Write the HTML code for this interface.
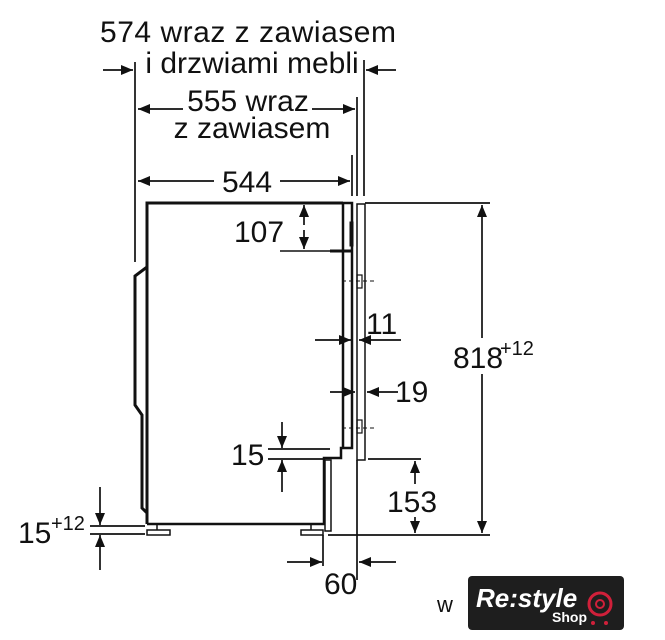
<!DOCTYPE html>
<html><head><meta charset="utf-8"><style>
html,body{margin:0;padding:0;background:#fff}
svg{display:block}
text{font-family:"Liberation Sans",sans-serif;fill:#111}
</style></head><body>
<svg width="665" height="640" viewBox="0 0 665 640" xmlns="http://www.w3.org/2000/svg">
<defs>
<marker id="a" viewBox="0 0 10 10" refX="10" refY="5" markerWidth="12" markerHeight="10" markerUnits="userSpaceOnUse" orient="auto" preserveAspectRatio="none"><path d="M0,0 L10,5 L0,10z" fill="#111"/></marker>
</defs>
<g stroke="#111" fill="none">
<path d="M147,524 L147,203 L343,203" stroke-width="3"/>
<path d="M147,524 L324,524 L324,458 L341,458 L341,448 L352,448 L352,203 L343,203 L343,448" stroke-width="2.5"/>
<rect x="350" y="222" width="3" height="24" fill="#111"/>
<line x1="330" y1="251" x2="352" y2="251" stroke-width="3"/>
<line x1="280" y1="251" x2="330" y2="251" stroke-width="1.5"/>
<path d="M147,267 L135,276 L135,405 L142,415 L142,508 L147,513" stroke-width="3"/>
<rect x="357" y="204" width="8" height="256" stroke-width="1.5"/>
<rect x="357" y="275" width="5" height="13" stroke-width="1.2"/>
<rect x="357" y="420" width="5" height="13" stroke-width="1.2"/>
<line x1="342" y1="281" x2="374" y2="281" stroke-width="1" stroke-dasharray="4,3"/>
<line x1="342" y1="428" x2="374" y2="428" stroke-width="1" stroke-dasharray="4,3"/>
<rect x="325" y="460" width="6" height="71" stroke-width="1.5"/>
<rect x="147" y="530" width="23" height="5" stroke-width="1.5"/>
<line x1="157" y1="524" x2="157" y2="530" stroke-width="1.5"/>
<rect x="301" y="530" width="22" height="5" stroke-width="1.5"/>
<line x1="311" y1="524" x2="311" y2="530" stroke-width="1.5"/>
<g stroke-width="1.7">
<line x1="135" y1="62" x2="135" y2="262"/>
<line x1="364" y1="60" x2="364" y2="196"/>
<line x1="357" y1="97" x2="357" y2="196"/>
<line x1="352" y1="155" x2="352" y2="196"/>
<line x1="103" y1="70" x2="133" y2="70" marker-end="url(#a)"/>
<line x1="396" y1="70" x2="366" y2="70" marker-end="url(#a)"/>
<line x1="183" y1="109" x2="138" y2="109" marker-end="url(#a)"/>
<line x1="312" y1="109" x2="355" y2="109" marker-end="url(#a)"/>
<line x1="214" y1="181" x2="138" y2="181" marker-end="url(#a)"/>
<line x1="280" y1="181" x2="350" y2="181" marker-end="url(#a)"/>
<line x1="304" y1="225" x2="304" y2="205" marker-end="url(#a)"/>
<line x1="304" y1="230" x2="304" y2="249" marker-end="url(#a)"/>
<line x1="315" y1="340" x2="351" y2="340" marker-end="url(#a)"/>
<line x1="401" y1="340" x2="359" y2="340" marker-end="url(#a)"/>
<line x1="330" y1="392" x2="355" y2="392" marker-end="url(#a)"/>
<line x1="398" y1="392" x2="367" y2="392" marker-end="url(#a)"/>
<line x1="268" y1="449" x2="330" y2="449"/>
<line x1="268" y1="459" x2="323" y2="459"/>
<line x1="282" y1="422" x2="282" y2="448" marker-end="url(#a)"/>
<line x1="282" y1="492" x2="282" y2="460" marker-end="url(#a)"/>
<line x1="365" y1="203" x2="490" y2="203"/>
<line x1="328" y1="535" x2="490" y2="535"/>
<line x1="482" y1="338" x2="482" y2="205" marker-end="url(#a)"/>
<line x1="482" y1="374" x2="482" y2="533" marker-end="url(#a)"/>
<line x1="368" y1="459" x2="421" y2="459"/>
<line x1="415" y1="484" x2="415" y2="461" marker-end="url(#a)"/>
<line x1="415" y1="517" x2="415" y2="533" marker-end="url(#a)"/>
<line x1="90" y1="526" x2="145" y2="526"/>
<line x1="90" y1="534" x2="145" y2="534"/>
<line x1="100" y1="487" x2="100" y2="525" marker-end="url(#a)"/>
<line x1="100" y1="570" x2="100" y2="535" marker-end="url(#a)"/>
<line x1="323" y1="535" x2="323" y2="566"/>
<line x1="357" y1="460" x2="357" y2="580"/>
<line x1="287" y1="562" x2="322" y2="562" marker-end="url(#a)"/>
<line x1="396" y1="562" x2="359" y2="562" marker-end="url(#a)"/>
</g>
</g>
<g font-size="30">
<text x="248" y="42" text-anchor="middle" textLength="296">574 wraz z zawiasem</text>
<text x="252" y="73" text-anchor="middle">i drzwiami mebli</text>
<text x="248" y="111" text-anchor="middle">555 wraz</text>
<text x="252" y="138" text-anchor="middle">z zawiasem</text>
<text x="247" y="192" text-anchor="middle">544</text>
<text x="234" y="242">107</text>
<text x="366" y="334">11</text>
<text x="395" y="402">19</text>
<text x="231" y="465">15</text>
<text x="387" y="512">153</text>
<text x="324" y="594">60</text>
<text x="453" y="368">818</text>
<text x="18" y="543">15</text>
</g>
<text x="500" y="355" font-size="20">+12</text>
<text x="51" y="530" font-size="20">+12</text>
<text x="437" y="612" font-size="22">w</text>
<rect x="468" y="576" width="156" height="54" rx="4" fill="#1e1e1e"/>
<text x="476" y="607" font-size="26" font-style="italic" font-weight="bold" style="fill:#fff">Re:style</text>
<text x="552" y="622" font-size="14" font-weight="bold" style="fill:#fff">Shop</text>
<circle cx="600" cy="604" r="11" fill="none" stroke="#d0203a" stroke-width="3"/>
<circle cx="600" cy="604" r="4" fill="none" stroke="#d0203a" stroke-width="2"/>
<circle cx="593" cy="623" r="2" fill="#d0203a"/><circle cx="606" cy="623" r="2" fill="#d0203a"/>
</svg>
</body></html>
